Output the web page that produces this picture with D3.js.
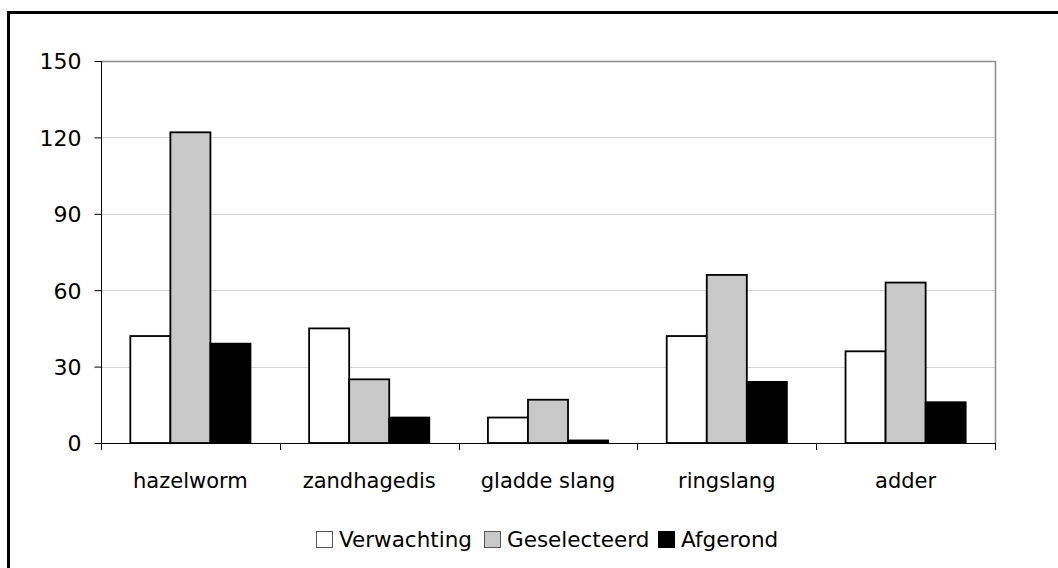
<!DOCTYPE html>
<html><head><meta charset="utf-8">
<script src="https://cdn.jsdelivr.net/npm/d3@7/dist/d3.min.js"></script>
<style>body{margin:0;background:#fff}svg{display:block}text{font-family:"DejaVu Sans",sans-serif;fill:#000}</style>
</head><body>
<svg id="c" width="1058" height="568"></svg>
<script>
const categories = ["hazelworm","zandhagedis","gladde slang","ringslang","adder"];
const seriesNames = ["Verwachting","Geselecteerd","Afgerond"];
const verwachting = [42,45,10,42,36];
const geselecteerd = [122,25,17,66,63];
const afgerond = [39,10,1,24,16];
const yTicks = [0,30,60,90,120,150];
const colors = ["#ffffff","#c8c8c8","#000000"];

const svg = d3.select("#c");
// outer frame
svg.append("rect").attr("x",8.5).attr("y",12.5).attr("width",1100).attr("height",600)
  .attr("fill","none").attr("stroke","#000").attr("stroke-width",3);

const L=101,R=995,T=61,B=443;
const x = d3.scaleBand().domain(categories).range([L,R]);
const y = d3.scaleLinear().domain([0,150]).range([B,T]);
const groupW = x.bandwidth()*0.672;
const xsub = d3.scaleBand().domain(seriesNames).range([(x.bandwidth()-groupW)/2,(x.bandwidth()+groupW)/2]);

// gridlines
svg.append("g").selectAll("line").data(yTicks.filter(v=>v>0&&v<150)).join("line")
  .attr("x1",L).attr("x2",R).attr("y1",d=>Math.round(y(d))+0.5).attr("y2",d=>Math.round(y(d))+0.5)
  .attr("stroke","#d4d4d4").attr("stroke-width",1);
// plot border top/right
svg.append("path").attr("d",`M${L},${T+0.5}H${R+0.5}V${B}`).attr("fill","none").attr("stroke","#8c8c8c").attr("stroke-width",1.5);

const series=[verwachting,geselecteerd,afgerond];
const data=[];
categories.forEach((c,i)=>series.forEach((s,j)=>data.push({c,s:seriesNames[j],v:s[i],j})));
svg.append("g").selectAll("rect").data(data).join("rect")
  .attr("x",d=>x(d.c)+xsub(d.s)).attr("width",xsub.bandwidth())
  .attr("y",d=>y(d.v)).attr("height",d=>B-y(d.v))
  .attr("fill",d=>colors[d.j]).attr("stroke","#000").attr("stroke-width",1.8);

// y axis
const ya = svg.append("g").attr("transform",`translate(${L+0.5},0)`)
  .call(d3.axisLeft(y).tickValues(yTicks).tickSize(7).tickPadding(13));
ya.select(".domain").attr("stroke","#000").attr("d",`M0,${T}V${B}`);
ya.selectAll(".tick text").style("font-size","22px").attr("dy","0.36em");

// x axis
const xa = svg.append("g").attr("transform",`translate(0,${B+0.5})`)
  .call(d3.axisBottom(x).tickSize(0).tickPadding(30));
xa.select(".domain").attr("stroke","#000").attr("d",`M${L},0H${R}`);
xa.selectAll(".tick text").style("font-size","21px");
xa.selectAll(".tick line").remove();
svg.append("g").selectAll("line").data(categories.concat(["_end"])).join("line")
  .attr("x1",(d,i)=>Math.round(L+i*x.bandwidth())+0.5).attr("x2",(d,i)=>Math.round(L+i*x.bandwidth())+0.5)
  .attr("y1",B).attr("y2",B+7).attr("stroke","#000");

// legend
const legend = svg.append("g");
const items=[{n:"Verwachting",x:316},{n:"Geselecteerd",x:484},{n:"Afgerond",x:658}];
const lg = legend.selectAll("g").data(seriesNames).join("g");
lg.append("rect").attr("x",(d,i)=>items[i].x+0.5).attr("y",531.5).attr("width",16).attr("height",16)
  .attr("fill",(d,i)=>colors[i]).attr("stroke",(d,i)=>i==2?"#000":"#555").attr("stroke-width",1);
lg.append("text").attr("x",(d,i)=>items[i].x+23).attr("y",547).text(d=>d).style("font-size","21.5px");
</script>
</body></html>
